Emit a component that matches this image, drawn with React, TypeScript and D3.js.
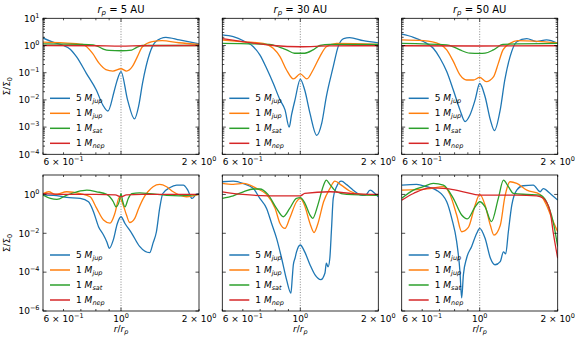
import React from 'react';
import * as d3 from 'd3';

type Pt = [number, number];

const colors = ['#1f77b4', '#ff7f0e', '#2ca02c', '#d62728'];
const massNum = ['5', '1', '1', '1'];
const massSub = ['jup', 'jup', 'sat', 'nep'];
const rpLabels = ['5', '30', '50'];

// ---- top row (r_p = 5, 30, 50 AU) ----
const t5Jup5: Pt[] = [[0.5, 1.9], [0.55, 1.3], [0.6, 1.0], [0.635, 0.75], [0.673, 0.39], [0.735, 0.095], [0.803, 0.023], [0.851, 0.0065], [0.89, 0.0039], [0.94, 0.02], [0.965, 0.05], [1.0, 0.11], [1.06, 0.01], [1.127, 0.002], [1.17, 0.006], [1.21, 0.04], [1.29, 0.51], [1.36, 1.38], [1.49, 2.0], [1.68, 1.6], [2.0, 1.15]];
const t5Jup1: Pt[] = [[0.5, 1.32], [0.6, 1.25], [0.712, 1.1], [0.777, 0.51], [0.824, 0.22], [0.874, 0.13], [0.93, 0.115], [1.0, 0.14], [1.05, 0.115], [1.107, 0.17], [1.157, 0.39], [1.21, 0.9], [1.32, 1.38], [1.44, 1.5], [1.67, 1.26], [2.0, 1.1]];
const t5Sat1: Pt[] = [[0.5, 1.15], [0.7, 1.1], [0.78, 1.05], [0.82, 0.9], [0.86, 0.72], [0.9, 0.66], [1.0, 0.64], [1.1, 0.68], [1.15, 0.85], [1.21, 1.0], [1.3, 1.0], [2.0, 1.0]];
const t5Nep1: Pt[] = [[0.5, 1.0], [0.8, 0.98], [1.0, 0.95], [1.2, 0.98], [2.0, 1.0]];

const t30Jup5: Pt[] = [[0.5, 2.44], [0.551, 2.1], [0.603, 1.5], [0.659, 0.9], [0.698, 0.45], [0.741, 0.145], [0.787, 0.04], [0.835, 0.01], [0.873, 0.0043], [0.906, 0.001], [0.925, 0.0028], [0.954, 0.01], [1.0, 0.057], [1.04, 0.023], [1.09, 0.0032], [1.157, 0.0005], [1.21, 0.0014], [1.26, 0.013], [1.34, 0.166], [1.4, 0.91], [1.47, 1.8], [1.55, 1.95], [1.75, 1.5], [2.0, 1.25]];
const t30Jup1: Pt[] = [[0.5, 1.6], [0.603, 1.37], [0.719, 1.2], [0.786, 0.79], [0.835, 0.39], [0.885, 0.126], [0.94, 0.059], [1.0, 0.09], [1.06, 0.059], [1.12, 0.126], [1.19, 0.39], [1.26, 0.9], [1.38, 1.2], [2.0, 1.1]];
const t30Sat1: Pt[] = [[0.5, 1.2], [0.76, 1.1], [0.835, 0.85], [0.885, 0.69], [0.95, 0.52], [1.04, 0.52], [1.12, 0.69], [1.19, 1.0], [1.3, 1.1], [2.0, 1.1]];
const t30Nep1: Pt[] = [[0.5, 1.8], [0.6, 1.4], [0.786, 1.0], [1.0, 0.9], [1.3, 0.97], [2.0, 0.98]];

const t50Jup5: Pt[] = [[0.5, 2.6], [0.555, 2.0], [0.606, 1.4], [0.662, 0.79], [0.703, 0.34], [0.746, 0.11], [0.791, 0.023], [0.839, 0.0043], [0.878, 0.0016], [0.917, 0.0028], [0.96, 0.01], [1.0, 0.04], [1.049, 0.013], [1.1, 0.0018], [1.14, 0.00074], [1.2, 0.0043], [1.25, 0.054], [1.31, 0.39], [1.39, 1.38], [1.52, 1.8], [1.66, 1.4], [1.81, 1.6], [2.0, 1.2]];
const t50Jup1: Pt[] = [[0.5, 1.6], [0.606, 1.5], [0.703, 1.1], [0.746, 0.69], [0.791, 0.26], [0.839, 0.083], [0.89, 0.054], [0.945, 0.054], [1.0, 0.067], [1.06, 0.047], [1.13, 0.07], [1.18, 0.22], [1.23, 0.69], [1.31, 1.2], [1.4, 1.5], [2.0, 1.25]];
const t50Sat1: Pt[] = [[0.5, 1.2], [0.746, 1.05], [0.8, 0.85], [0.839, 0.69], [0.917, 0.52], [1.0, 0.51], [1.049, 0.52], [1.13, 0.69], [1.23, 1.1], [2.0, 1.2]];
const t50Nep1: Pt[] = [[0.5, 0.98], [1.0, 0.96], [2.0, 0.98]];

// ---- bottom row ----
const b5Jup5: Pt[] = [[0.5, 0.93], [0.549, 0.9], [0.618, 0.7], [0.696, 0.62], [0.749, 0.42], [0.783, 0.13], [0.819, 0.022], [0.856, 0.0081], [0.881, 0.0037], [0.902, 0.0017], [0.934, 0.0046], [0.968, 0.032], [1.0, 0.071], [1.036, 0.032], [1.1, 0.01], [1.18, 0.0021], [1.29, 0.001], [1.33, 0.0032], [1.37, 0.012], [1.41, 0.19], [1.45, 1.12], [1.54, 2.2], [1.64, 3.0], [1.74, 3.0], [1.81, 1.66], [1.88, 0.62], [1.95, 1.0], [2.0, 1.1]];
const b5Jup1: Pt[] = [[0.5, 1.1], [0.526, 1.37], [0.558, 1.0], [0.618, 1.37], [0.696, 1.1], [0.76, 0.76], [0.806, 0.19], [0.856, 0.048], [0.907, 0.033], [0.948, 0.11], [0.985, 0.7], [1.02, 0.28], [1.05, 0.087], [1.08, 0.036], [1.13, 0.059], [1.17, 0.19], [1.22, 0.63], [1.27, 1.37], [1.33, 2.5], [1.41, 3.3], [1.5, 2.5], [1.59, 1.37], [1.79, 0.76], [2.0, 1.0]];
const b5Sat1: Pt[] = [[0.5, 0.93], [0.534, 0.62], [0.566, 0.55], [0.618, 0.93], [0.676, 1.37], [0.738, 1.67], [0.806, 1.37], [0.881, 1.0], [0.934, 0.42], [0.957, 0.23], [0.985, 0.45], [1.0, 1.1], [1.015, 0.45], [1.036, 0.23], [1.067, 0.62], [1.1, 1.1], [1.18, 1.2], [1.29, 1.1], [1.5, 0.9], [1.685, 0.85], [2.0, 1.0]];
const b5Nep1: Pt[] = [[0.5, 1.1], [0.6, 1.0], [0.8, 1.0], [0.95, 0.95], [1.0, 0.75], [1.05, 0.95], [1.2, 1.0], [1.5, 1.0], [2.0, 1.0]];

const b30Jup5: Pt[] = [[0.5, 4.5], [0.551, 4.8], [0.603, 3.6], [0.659, 2.0], [0.698, 0.62], [0.741, 0.19], [0.775, 0.032], [0.81, 0.0055], [0.847, 0.00052], [0.885, 4.1e-5], [0.92, 8.3e-6], [0.931, 5e-5], [0.94, 0.00024], [0.954, 0.00052], [0.967, 0.0011], [1.0, 0.0025], [1.04, 0.0011], [1.09, 0.00024], [1.14, 7.2e-5], [1.2, 4.1e-5], [1.245, 9e-5], [1.26, 0.00029], [1.28, 0.00019], [1.3, 0.00052], [1.32, 0.018], [1.34, 0.63], [1.38, 2.5], [1.44, 4.8], [1.51, 3.2], [1.6, 1.66], [1.7, 0.96], [1.78, 0.89], [1.86, 1.66], [1.94, 1.12], [2.0, 0.75]];
const b30Jup1: Pt[] = [[0.5, 3.7], [0.551, 3.3], [0.603, 3.7], [0.68, 2.0], [0.741, 1.0], [0.8, 0.19], [0.835, 0.032], [0.873, 0.018], [0.91, 0.059], [0.967, 0.42], [1.0, 0.63], [1.04, 0.26], [1.09, 0.032], [1.13, 0.011], [1.17, 0.032], [1.23, 0.42], [1.3, 2.0], [1.36, 4.8], [1.44, 3.0], [1.55, 1.5], [1.7, 1.0], [2.0, 0.9]];
const b30Sat1: Pt[] = [[0.5, 0.63], [0.551, 0.85], [0.603, 1.37], [0.659, 1.9], [0.698, 1.9], [0.75, 1.0], [0.81, 0.19], [0.86, 0.071], [0.91, 0.19], [0.967, 0.63], [1.0, 0.68], [1.04, 0.37], [1.09, 0.087], [1.116, 0.059], [1.17, 0.3], [1.23, 3.0], [1.26, 5.4], [1.3, 3.3], [1.38, 1.37], [1.51, 1.0], [2.0, 0.9]];
const b30Nep1: Pt[] = [[0.5, 1.37], [0.6, 1.0], [0.75, 0.85], [1.0, 0.85], [1.04, 1.12], [1.3, 1.37], [1.6, 1.1], [2.0, 1.0]];

const b50Jup5: Pt[] = [[0.5, 3.0], [0.571, 3.3], [0.624, 2.5], [0.68, 1.67], [0.746, 0.42], [0.78, 0.059], [0.815, 0.0037], [0.839, 0.00011], [0.852, 4.7e-6], [0.865, 7.2e-5], [0.89, 0.00052], [0.931, 0.0021], [0.974, 0.01], [1.0, 0.018], [1.049, 0.0055], [1.1, 0.00052], [1.146, 0.00024], [1.2, 0.00035], [1.235, 0.0011], [1.26, 0.00088], [1.29, 0.012], [1.33, 0.28], [1.39, 1.67], [1.47, 2.8], [1.61, 3.0], [1.71, 1.37], [1.76, 2.0], [1.87, 1.12], [2.0, 0.51]];
const b50Jup1: Pt[] = [[0.5, 1.67], [0.643, 2.0], [0.724, 2.5], [0.768, 1.0], [0.815, 0.087], [0.852, 0.012], [0.904, 0.02], [0.96, 0.28], [1.0, 1.0], [1.049, 0.28], [1.1, 0.025], [1.135, 0.008], [1.2, 0.025], [1.25, 0.73], [1.31, 4.5], [1.39, 3.7], [1.52, 1.67], [1.71, 1.0], [1.81, 0.28], [1.92, 0.041], [2.0, 0.012]];
const b50Sat1: Pt[] = [[0.5, 0.63], [0.555, 1.67], [0.606, 2.5], [0.662, 3.7], [0.724, 3.0], [0.791, 0.63], [0.852, 0.087], [0.896, 0.055], [0.96, 0.23], [1.0, 0.42], [1.049, 0.23], [1.11, 0.04], [1.18, 0.63], [1.235, 5.4], [1.29, 2.5], [1.35, 1.12], [1.52, 1.0], [1.71, 0.92], [1.81, 0.42], [1.92, 0.04], [2.0, 0.0021]];
const b50Nep1: Pt[] = [[0.5, 0.51], [0.555, 1.12], [0.643, 2.2], [0.746, 2.0], [0.865, 1.37], [1.0, 0.92], [1.2, 0.92], [1.39, 0.92], [1.66, 0.85], [1.76, 0.63], [1.87, 0.13], [1.92, 0.012], [2.0, 0.00052]];

const topRow = [
  [t5Jup5, t5Jup1, t5Sat1, t5Nep1],
  [t30Jup5, t30Jup1, t30Sat1, t30Nep1],
  [t50Jup5, t50Jup1, t50Sat1, t50Nep1],
];
const bottomRow = [
  [b5Jup5, b5Jup1, b5Sat1, b5Nep1],
  [b30Jup5, b30Jup1, b30Sat1, b30Nep1],
  [b50Jup5, b50Jup1, b50Sat1, b50Nep1],
];

// ticks
const xDomain = [0.5, 2];
const xMajor = [1];
const xMinor = [0.5, 0.6, 0.7, 0.8, 0.9, 2];
const xLabelsTop = [0.6, 2];
const xLabelsBottom = [0.6, 1, 2];
const topExps = [-4, -3, -2, -1, 0, 1];
const bottomExps = [-6, -4, -2, 0];

const W = 581, H = 342;
const colLeft = [43, 222.3, 401.7];
const rowTop = [18.3, 175];
const PW = 156, PH = 136;
const FONT = 'DejaVu Sans, sans-serif';

function xLabel(v: number) {
  if (v === 1) return <>10<tspan dy={-4} fontSize={6.5}>0</tspan></>;
  if (v === 0.6) return <>6 × 10<tspan dy={-4} fontSize={6.5}>−1</tspan></>;
  return <>2 × 10<tspan dy={-4} fontSize={6.5}>0</tspan></>;
}

function Panel({ col, row, series }: { col: number; row: number; series: Pt[][] }) {
  const top = row === 0;
  const x = d3.scaleLog().domain(xDomain).range([0, PW]);
  const y = d3.scaleLog().domain(top ? [1e-4, 10] : [1e-6, 10]).range([PH, 0]);
  const line = d3.line<Pt>().x(d => x(d[0])).y(d => y(d[1])).curve(d3.curveMonotoneX);
  const exps = top ? topExps : bottomExps;
  const yMinor: number[] = [];
  if (top) {
    topExps.slice(0, -1).forEach(e => { for (let k = 2; k <= 9; k++) yMinor.push(k * Math.pow(10, e)); });
  }
  const clipId = `clip-${row}-${col}`;
  const legendY = (i: number) => PH - 11 - (3 - i) * 15;
  return (
    <g transform={`translate(${colLeft[col]},${rowTop[row]})`}>
      <defs>
        <clipPath id={clipId}><rect x={0} y={0} width={PW} height={PH} /></clipPath>
      </defs>
      <line x1={x(1)} x2={x(1)} y1={0} y2={PH} stroke="#888" strokeWidth={1} strokeDasharray="1,1.6" />
      <g clipPath={`url(#${clipId})`}>
        {series.map((s, i) => (
          <path key={i} d={line(s) || ''} fill="none" stroke={colors[i]} strokeWidth={1.3} />
        ))}
      </g>
      {/* ticks, inward on all sides */}
      <g stroke="#000" strokeWidth={0.7}>
        {xMajor.map(v => (
          <g key={'xM' + v}>
            <line x1={x(v)} x2={x(v)} y1={PH} y2={PH - 3.5} />
            <line x1={x(v)} x2={x(v)} y1={0} y2={3.5} />
          </g>
        ))}
        {xMinor.map(v => (
          <g key={'xm' + v}>
            <line x1={x(v)} x2={x(v)} y1={PH} y2={PH - 2} />
            <line x1={x(v)} x2={x(v)} y1={0} y2={2} />
          </g>
        ))}
        {exps.map(e => (
          <g key={'yM' + e}>
            <line x1={0} x2={3.5} y1={y(Math.pow(10, e))} y2={y(Math.pow(10, e))} />
            <line x1={PW} x2={PW - 3.5} y1={y(Math.pow(10, e))} y2={y(Math.pow(10, e))} />
          </g>
        ))}
        {yMinor.map(v => (
          <g key={'ym' + v}>
            <line x1={0} x2={2} y1={y(v)} y2={y(v)} />
            <line x1={PW} x2={PW - 2} y1={y(v)} y2={y(v)} />
          </g>
        ))}
      </g>
      <rect x={0} y={0} width={PW} height={PH} fill="none" stroke="#000" strokeWidth={0.8} />
      {/* tick labels */}
      <g fontFamily={FONT} fontSize={9} fill="#000">
        {(top ? xLabelsTop : xLabelsBottom).map(v => (
          <text key={'xl' + v} x={x(v)} y={PH + 10.5} textAnchor="middle">{xLabel(v)}</text>
        ))}
        {col === 0 && exps.map(e => (
          <text key={'yl' + e} x={-3.5} y={y(Math.pow(10, e)) + 3.3} textAnchor="end">
            10<tspan dy={-4} fontSize={6.5}>{e < 0 ? `−${-e}` : `${e}`}</tspan>
          </text>
        ))}
      </g>
      {/* legend */}
      <g fontFamily={FONT} fontSize={9}>
        {colors.map((c, i) => (
          <g key={'lg' + i}>
            <line x1={7} x2={27} y1={legendY(i)} y2={legendY(i)} stroke={c} strokeWidth={1.5} />
            <text x={33} y={legendY(i) + 3.2}>
              {massNum[i]} <tspan fontStyle="italic">M</tspan>
              <tspan fontStyle="italic" fontSize={6.5} dy={2}>{massSub[i]}</tspan>
            </text>
          </g>
        ))}
      </g>
      {top && (
        <text x={PW / 2} y={-5.5} textAnchor="middle" fontFamily={FONT} fontSize={10}>
          <tspan fontStyle="italic">r</tspan>
          <tspan fontStyle="italic" fontSize={7} dy={2}>p</tspan>
          <tspan dy={-2}> = {rpLabels[col]} AU</tspan>
        </text>
      )}
      {!top && (
        <text x={PW / 2} y={PH + 21} textAnchor="middle" fontFamily={FONT} fontSize={9}>
          <tspan fontStyle="italic">r</tspan>/<tspan fontStyle="italic">r</tspan>
          <tspan fontStyle="italic" fontSize={6.5} dy={2}>p</tspan>
        </text>
      )}
      {col === 0 && (
        <text transform={`translate(-33,${PH / 2}) rotate(-90)`} textAnchor="middle" fontFamily={FONT} fontSize={9}>
          Σ/Σ<tspan fontSize={6.5} dy={2}>0</tspan>
        </text>
      )}
    </g>
  );
}

export default function App() {
  return (
    <svg width={W} height={H} style={{ position: 'absolute', left: 0, top: 0, background: '#fff' }}>
      {topRow.map((s, c) => <Panel key={'t' + c} col={c} row={0} series={s} />)}
      {bottomRow.map((s, c) => <Panel key={'b' + c} col={c} row={1} series={s} />)}
    </svg>
  );
}
